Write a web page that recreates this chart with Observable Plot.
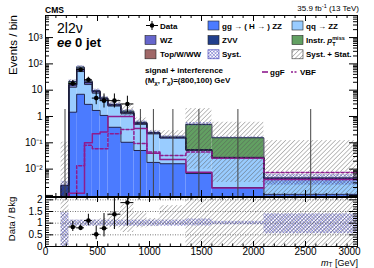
<!DOCTYPE html>
<html><head><meta charset="utf-8">
<script src="https://cdn.jsdelivr.net/npm/d3@7"></script>
<script src="https://cdn.jsdelivr.net/npm/@observablehq/plot@0.6"></script>
<style>
html,body{margin:0;padding:0;background:#fff;}
#wrap{position:relative;width:374px;height:268px;overflow:hidden;font-family:"Liberation Sans",Arial,Helvetica,sans-serif;}
#wrap > svg, #wrap > div{position:absolute;left:0;}
</style></head><body>
<div id="wrap">
<svg width="0" height="0" style="position:absolute;left:0;top:0">
<defs>
<pattern id="hGray" patternUnits="userSpaceOnUse" width="3.2" height="3.2" patternTransform="rotate(45)">
<line x1="0" y1="0" x2="0" y2="3.2" stroke="#555" stroke-width="0.75"/>
</pattern>
<pattern id="hBlue" patternUnits="userSpaceOnUse" width="2.4" height="2.4" patternTransform="rotate(45)">
<line x1="0" y1="0" x2="0" y2="2.4" stroke="#3434b4" stroke-width="0.7"/>
<line x1="0" y1="0" x2="2.4" y2="0" stroke="#3434b4" stroke-width="0.7"/>
</pattern>
</defs>
</svg>
</div>
<script>
// ---------------- data ----------------
const binEdges = [150,225,300,375,450,525,600,725,850,975,1100,1350,1600,2100,3000];
const ggZZ     = [0, 1.46, 7.0, 2.9, 1.7, 1.1, 0.39, 0.105, 0.051, 0.018, 0.016, 0.0068, 0.002, 0.0011];
const qqZZ     = [0, 11.5, 44, 13.5, 6.0, 3.2, 2.1, 1.16, 0.45, 0.2, 0.134, 0.044, 0.024, 0.0032];
const WZ       = [0, 2.8, 10, 2.8, 1.0, 0.4, 0.2, 0.1, 0.05, 0.017, 0.008, 0.003, 0.0015, 0.0002];
const ZVV      = [0.0024, 0.5, 2, 0.6, 0.2, 0.08, 0.04, 0.025, 0.01, 0.003, 0.002, 0.001, 0.0005, 0];
const TopWWW   = [0, 0.2, 1, 0.2, 0.1, 0.02, 0.01, 0.005, 0, 0, 0, 0, 0, 0];
const InstrMET = [0, 5.0, 11, 2.5, 0.6, 0.3, 0.15, 0.2, 0.04, 0.01, 0.005, 0.445, 0.127, 0];
const dataCounts  = [0, 18, 60, 25, 5, 4, 4, 3, 0, 0, 0, 0, 0, 0];
const dataErrLow  = [0, 4.2, 7.7, 5.0, 2.2, 1.9, 1.9, 1.6, 0, 0, 0, 0, 0, 0];
const dataErrHigh = [1.84, 5.3, 8.8, 6.1, 3.4, 3.2, 3.2, 2.9, 1.84, 1.84, 1.84, 1.84, 1.84, 1.84];
const ggF = [1e-5, 0.0012, 0.0012, 0.1, 0.22, 0.26, 1.0, 1.0, 0.35, 0.04, 0.023, 0.0076, 0.0019, 0.004];
const VBF = [1e-5, 1e-5, 0.0135, 0.08, 0.06, 0.06, 0.22, 0.32, 0.095, 0.045, 0.033, 0.045, 0.026, 0.0075];
const systRelLow  = [0, 0.87, 0.87, 0.87, 0.87, 0.87, 0.87, 0.87, 0.87, 0.87, 0.87, 0.88, 0.93, 0.55];
const systRelHigh = [1.45, 1.13, 1.13, 1.13, 1.13, 1.13, 1.13, 1.13, 1.13, 1.13, 1.13, 1.18, 1.08, 1.4];
const totRelLow   = [0, 0.87, 0.87, 0.87, 0.87, 0.85, 0.8, 0.6, 0.8, 0.85, 0.9, 0.02, 0.02, 0];
const totRelHigh  = [44, 1.13, 1.13, 1.13, 1.15, 1.2, 1.5, 1.82, 1.45, 1.2, 1.75, 4, 3.9, 27];
const xTickLabels = [0, 500, 1000, 1500, 2000, 2500, 3000];
const yTickLabels = [[1e-2,"10⁻²"],[1e-1,"10⁻¹"],[1,"1"],[10,"10"],[100,"10²"],[1000,"10³"]];
const ratioTickLabels = [[0,"0"],[0.5,"0.5"],[1,"1"],[1.5,"1.5"],[2,"2"]];

// ---------------- build tables ----------------
const FLOOR = 1e-5;
const font = '"Liberation Sans", Arial, Helvetica, sans-serif';
const bins = binEdges.slice(0, -1).map((x1, i) => ({i, x1, x2: binEdges[i + 1], xc: (x1 + binEdges[i + 1]) / 2}));
const comps = [
  {vals: ggZZ, fill: "#4b7bff"},
  {vals: qqZZ, fill: "#99ccff"},
  {vals: WZ, fill: "#6666cc"},
  {vals: ZVV, fill: "#213f8c"},
  {vals: TopWWW, fill: "#a06868"},
  {vals: InstrMET, fill: "#62a062"}
];
const cum = bins.map(() => 0);
const compRects = [], compTops = [];
comps.forEach(c => {
  const rects = [];
  bins.forEach((b, i) => {
    const lo = cum[i], hi = lo + c.vals[i];
    if (c.vals[i] > 0) rects.push({x1: b.x1, x2: b.x2, y1: Math.max(lo, FLOOR), y2: hi});
    cum[i] = hi;
  });
  compRects.push({rects, fill: c.fill});
  compTops.push(cum.slice());
});
const total = cum.slice();
function stepPts(vals) {
  const pts = [{x: binEdges[0], y: FLOOR}];
  bins.forEach((b, i) => pts.push({x: b.x1, y: Math.max(vals[i], FLOOR)}));
  pts.push({x: binEdges[binEdges.length - 1], y: Math.max(vals[vals.length - 1], FLOOR)});
  return pts;
}
const systMain = bins.filter(b => total[b.i] > 0).map(b => ({x1: b.x1, x2: b.x2, y1: Math.max(total[b.i] * systRelLow[b.i], FLOOR), y2: total[b.i] * systRelHigh[b.i]}));
const totMain = bins.filter(b => total[b.i] > 0).map(b => ({x1: b.x1, x2: b.x2, y1: Math.max(total[b.i] * totRelLow[b.i], FLOOR), y2: total[b.i] * totRelHigh[b.i]}));
const dataPts = bins.filter(b => dataCounts[b.i] > 0).map(b => ({x: b.xc, x1: b.x1, x2: b.x2, y: dataCounts[b.i], lo: dataCounts[b.i] - dataErrLow[b.i], hi: dataCounts[b.i] + dataErrHigh[b.i],
  r: dataCounts[b.i] / total[b.i], rlo: (dataCounts[b.i] - dataErrLow[b.i]) / total[b.i], rhi: (dataCounts[b.i] + dataErrHigh[b.i]) / total[b.i]}));
const zeroPts = bins.filter(b => dataCounts[b.i] === 0).map(b => ({x: b.xc, y1: FLOOR, y2: dataErrHigh[b.i]}));
const ratioSyst = bins.map(b => ({x1: b.x1, x2: b.x2, y1: systRelLow[b.i], y2: systRelHigh[b.i]}));
const ratioTot = bins.map(b => ({x1: b.x1, x2: b.x2, y1: totRelLow[b.i], y2: totRelHigh[b.i]}));

// ticks
const xMajor = d3.range(0, 3001, 500);
const xMinor = d3.range(0, 3001, 100).filter(v => v % 500 !== 0);
const yMajor = d3.range(-3, 4).map(n => Math.pow(10, n)).filter(v => v >= 9.1e-4 && v <= 6900);
const yMinor = [];
for (let n = -4; n <= 3; n++) for (let k = 2; k <= 9; k++) { const v = k * Math.pow(10, n); if (v > 9.1e-4 && v < 6900) yMinor.push(v); }
const rMajor = [0, 0.5, 1, 1.5, 2];
const rMinor = d3.range(0, 2.1, 0.1).map(v => +v.toFixed(2)).filter(v => !rMajor.includes(v));

const W = 374, ML = 45, MR = 17;
const innerW = W - ML - MR;
const mainTop = 15, mainBottom = 196;
const mainInnerH = mainBottom - mainTop;

function frameTicks(innerH, yMaj, yMin, yMajLen, yMinLen, xMajLen, xMinLen) {
  return [
    Plot.tickY(yMaj, {y: d => d, insetRight: innerW - yMajLen, stroke: "black"}),
    Plot.tickY(yMaj, {y: d => d, insetLeft: innerW - yMajLen, stroke: "black"}),
    Plot.tickY(yMin, {y: d => d, insetRight: innerW - yMinLen, stroke: "black"}),
    Plot.tickY(yMin, {y: d => d, insetLeft: innerW - yMinLen, stroke: "black"}),
    Plot.tickX(xMajor, {x: d => d, insetTop: innerH - xMajLen, stroke: "black"}),
    Plot.tickX(xMajor, {x: d => d, insetBottom: innerH - xMajLen, stroke: "black"}),
    Plot.tickX(xMinor, {x: d => d, insetTop: innerH - xMinLen, stroke: "black"}),
    Plot.tickX(xMinor, {x: d => d, insetBottom: innerH - xMinLen, stroke: "black"})
  ];
}

const purple = "#8e1b8e";
const mainPlot = Plot.plot({
  width: W, height: 197,
  marginLeft: ML, marginRight: MR, marginTop: mainTop, marginBottom: 1,
  x: {domain: [0, 3000], axis: null},
  y: {type: "log", domain: [9.1e-4, 6900], axis: null},
  style: {background: "transparent", fontFamily: font, fontSize: "10px", overflow: "visible"},
  marks: [
    ...compRects.map(c => Plot.rect(c.rects, {x1: "x1", x2: "x2", y1: "y1", y2: "y2", fill: c.fill, clip: true})),
    ...compTops.map(t => Plot.line(stepPts(t), {x: "x", y: "y", curve: "step-after", stroke: "#1c1c3a", strokeWidth: 0.9, clip: true})),
    Plot.rect(systMain, {x1: "x1", x2: "x2", y1: "y1", y2: "y2", fill: "url(#hBlue)", clip: true}),
    Plot.rect(totMain, {x1: "x1", x2: "x2", y1: "y1", y2: "y2", fill: "url(#hGray)", clip: true}),
    Plot.line(stepPts(ggF), {x: "x", y: "y", curve: "step-after", stroke: purple, strokeWidth: 1.5, clip: true}),
    Plot.line(stepPts(VBF), {x: "x", y: "y", curve: "step-after", stroke: purple, strokeWidth: 1.5, strokeDasharray: "3,2", clip: true}),
    Plot.ruleX(zeroPts, {x: "x", y1: "y1", y2: "y2", stroke: "#444", strokeWidth: 1, clip: true}),
    Plot.ruleX(dataPts, {x: "x", y1: "lo", y2: "hi", stroke: "black", strokeWidth: 1}),
    Plot.ruleY(dataPts, {y: "y", x1: "x1", x2: "x2", stroke: "black", strokeWidth: 1}),
    Plot.dot(dataPts, {x: "x", y: "y", r: 2.3, fill: "black", stroke: "none"}),
    ...frameTicks(mainInnerH, yMajor, yMinor, 8, 4, 6, 3),
    Plot.frame({stroke: "black", strokeWidth: 1}),
    Plot.text(yTickLabels, {y: d => d[0], text: d => d[1], frameAnchor: "left", textAnchor: "end", dx: -3, fontSize: 10})
  ]
});
mainPlot.style.top = "0px";

const ratioPlot = Plot.plot({
  width: W, height: 72,
  marginLeft: ML, marginRight: MR, marginTop: 1, marginBottom: 22,
  x: {domain: [0, 3000], axis: null},
  y: {domain: [0, 2.1], axis: null},
  style: {background: "transparent", fontFamily: font, fontSize: "10px", overflow: "visible"},
  marks: [
    Plot.ruleY([0.5, 1, 1.5, 2], {y: d => d, stroke: "#555", strokeDasharray: "1,1.5", strokeWidth: 0.8}),
    Plot.rect(ratioSyst, {x1: "x1", x2: "x2", y1: "y1", y2: "y2", fill: "url(#hBlue)", clip: true}),
    Plot.rect(ratioTot, {x1: "x1", x2: "x2", y1: "y1", y2: "y2", fill: "url(#hGray)", clip: true}),
    Plot.ruleX(dataPts, {x: "x", y1: "rlo", y2: "rhi", stroke: "black", strokeWidth: 1, clip: true}),
    Plot.ruleY(dataPts, {y: "r", x1: "x1", x2: "x2", stroke: "black", strokeWidth: 1}),
    Plot.dot(dataPts, {x: "x", y: "r", r: 2.3, fill: "black", stroke: "none"}),
    ...frameTicks(49, rMajor, rMinor, 8, 4, 5, 2.5),
    Plot.frame({stroke: "black", strokeWidth: 1}),
    Plot.text(ratioTickLabels, {y: d => d[0], text: d => d[1], frameAnchor: "left", textAnchor: "end", dx: -3, fontSize: 10}),
    Plot.text(xTickLabels.slice(0, -1), {x: d => d, text: d => String(d), frameAnchor: "bottom", lineAnchor: "top", dy: 1, fontSize: 10}),
    Plot.text(xTickLabels.slice(-1), {x: d => d, text: d => String(d), frameAnchor: "bottom", lineAnchor: "top", dy: 1, dx: -8, fontSize: 10})
  ]
});
ratioPlot.style.top = "196px";

const wrap = document.getElementById("wrap");
wrap.appendChild(mainPlot);
wrap.appendChild(ratioPlot);

// ---------------- annotations & legend ----------------
const ov = `
<svg width="374" height="268" style="position:absolute;left:0;top:0" font-family='${font}'>
<text x="45" y="12.5" font-size="8.5" font-weight="bold">CMS</text>
<text x="359" y="11" font-size="8" text-anchor="end">35.9 fb<tspan dy="-3" font-size="5.5">-1</tspan><tspan dy="3"> (13 TeV)</tspan></text>
<text transform="translate(17,15) rotate(-90)" text-anchor="end" font-size="11.5">Events / bin</text>
<text transform="translate(15,219) rotate(-90)" text-anchor="middle" font-size="9.5">Data / Bkg</text>
<text x="358" y="265.5" text-anchor="end" font-size="9"><tspan font-style="italic">m</tspan><tspan font-size="6.5" dy="1.5">T</tspan><tspan dy="-1.5"> [GeV]</tspan></text>
<text x="57" y="33" font-size="14">2l2ν</text>
<text x="57" y="47" font-size="13"><tspan font-style="italic" font-weight="bold">ee</tspan><tspan font-weight="bold"> 0 jet</tspan></text>
<g font-size="8" font-weight="bold">
<line x1="146" x2="158" y1="25.5" y2="25.5" stroke="black"/>
<line x1="152" x2="152" y1="21" y2="30" stroke="black"/>
<circle cx="152" cy="25.5" r="2.3" fill="black"/>
<text x="160" y="28.5">Data</text>
<rect x="208" y="21" width="11" height="9" fill="#4b7bff" stroke="#222" stroke-width="0.6"/>
<text x="222" y="28.5">gg → ( H → ) ZZ</text>
<rect x="292" y="21" width="11" height="9" fill="#99ccff" stroke="#222" stroke-width="0.6"/>
<text x="306" y="28.5">qq → ZZ</text>
<rect x="145" y="35.5" width="11" height="9" fill="#6666cc" stroke="#222" stroke-width="0.6"/>
<text x="160" y="43">WZ</text>
<rect x="208" y="35.5" width="11" height="9" fill="#213f8c" stroke="#222" stroke-width="0.6"/>
<text x="222" y="43">ZVV</text>
<rect x="292" y="35.5" width="11" height="9" fill="#62a062" stroke="#222" stroke-width="0.6"/>
<text x="306" y="43">Instr. <tspan font-style="italic">p</tspan><tspan font-size="5.5" dy="-3.5">miss</tspan><tspan font-size="5.5" dx="-12.5" dy="6">T</tspan></text>
<rect x="145" y="49.8" width="11" height="9" fill="#a06868" stroke="#222" stroke-width="0.6"/>
<text x="160" y="57.3">Top/W/WW</text>
<rect x="208" y="49.8" width="11" height="9" fill="url(#hBlue)" stroke="#3434b4" stroke-width="0.6"/>
<text x="222" y="57.3">Syst.</text>
<rect x="292" y="49.8" width="11" height="9" fill="url(#hGray)" stroke="#333" stroke-width="0.6"/>
<text x="306" y="57.3">Syst. + Stat.</text>
<text x="145" y="72.5">signal + interference</text>
<text x="145" y="83">(M<tspan font-size="6" dy="2">χ</tspan><tspan dy="-2">, Γ</tspan><tspan font-size="6" dy="2">χ</tspan><tspan dy="-2">)=(800,100) GeV</tspan></text>
<line x1="262" x2="268" y1="72" y2="72" stroke="${purple}" stroke-width="1.6"/>
<text x="270" y="75">ggF</text>
<line x1="291" x2="298" y1="72" y2="72" stroke="${purple}" stroke-width="1.6" stroke-dasharray="2,1.5"/>
<text x="300" y="75">VBF</text>
</g>
</svg>`;
wrap.insertAdjacentHTML("beforeend", ov);
</script>
</body></html>
